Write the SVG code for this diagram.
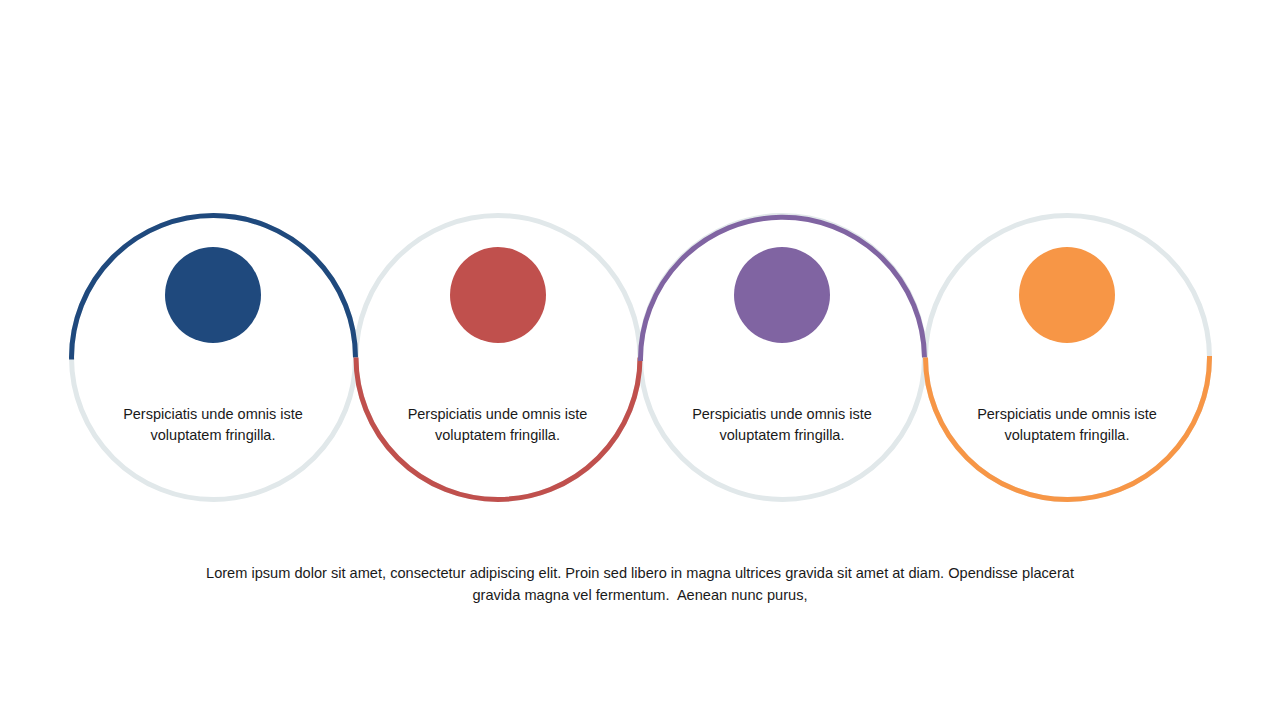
<svg xmlns="http://www.w3.org/2000/svg" width="1280" height="720" viewBox="0 0 1280 720">
<style>
.ring{fill:none;stroke:#E1E8EA;stroke-width:5}
.arc{fill:none;stroke-width:5;stroke-linecap:butt}
.lbl{font-family:"Liberation Sans",Arial,sans-serif;font-size:14.5px;fill:#1a1a1a;text-anchor:middle}
.cap{font-size:14.6px;white-space:pre}
</style>
<rect width="1280" height="720" fill="#fff"/>
<g id="rings">
<circle class="ring" cx="213.5" cy="357.5" r="142"/>
<circle class="ring" cx="498" cy="357.5" r="142"/>
<circle class="ring" cx="782.5" cy="357.5" r="142"/>
<circle class="ring" cx="1067.5" cy="357.5" r="142"/>
</g>
<g id="connectors">
<path class="arc" stroke="#1F497D" d="M71.5,357.5 A142,142 0 0 1 355.5,357.5"/>
<path class="arc" stroke="#1F497D" stroke-linecap="round" d="M71.5,357 L71.6,359.5"/>
<path class="arc" stroke="#C0504D" d="M356,357.5 A142,142 0 0 0 640,357.5"/>
<path class="arc" stroke="#8064A2" d="M640.5,361 A142,142 0 0 1 924.5,357.5"/>
<path class="arc" stroke="#F79646" d="M925.5,357.5 A142,142 0 0 0 1209.5,357.5"/>
<path class="arc" stroke="#F79646" stroke-linecap="round" d="M1209.5,358 L1209.5,356"/>
</g>
<g id="node1">
<circle cx="213" cy="295" r="48" fill="#1F497D"/>
<text class="lbl" x="213" y="418.5">Perspiciatis unde omnis iste</text>
<text class="lbl" x="213" y="439.5">voluptatem fringilla.</text>
</g>
<g id="node2">
<circle cx="498" cy="295" r="48" fill="#C0504D"/>
<text class="lbl" x="497.5" y="418.5">Perspiciatis unde omnis iste</text>
<text class="lbl" x="497.5" y="439.5">voluptatem fringilla.</text>
</g>
<g id="node3">
<circle cx="782" cy="295" r="48" fill="#8064A2"/>
<text class="lbl" x="782" y="418.5">Perspiciatis unde omnis iste</text>
<text class="lbl" x="782" y="439.5">voluptatem fringilla.</text>
</g>
<g id="node4">
<circle cx="1067" cy="295" r="48" fill="#F79646"/>
<text class="lbl" x="1067" y="418.5">Perspiciatis unde omnis iste</text>
<text class="lbl" x="1067" y="439.5">voluptatem fringilla.</text>
</g>
<g id="caption">
<text class="lbl cap" x="640" y="578">Lorem ipsum dolor sit amet, consectetur adipiscing elit. Proin sed libero in magna ultrices gravida sit amet at diam. Opendisse placerat</text>
<text class="lbl cap" x="640" y="599.5">gravida magna vel fermentum.  Aenean nunc purus,</text>
</g>
</svg>
